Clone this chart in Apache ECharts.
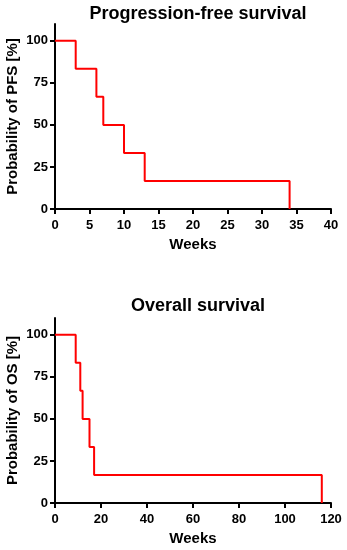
<!DOCTYPE html>
<html><head><meta charset="utf-8">
<script src="https://cdn.jsdelivr.net/npm/echarts@6/dist/echarts.min.js"></script>
<style>html,body{margin:0;padding:0;background:#fff}#c{width:347px;height:550px}</style>
</head><body><div id="c"></div>
<script>
// PFS: event times (weeks) and survival after each event (%)
const pfsWeeks = [0, 3, 6, 7, 10, 13, 34];
const pfsSurv  = [100, 83.33, 66.67, 50, 33.33, 16.67, 0];
// OS
const osWeeks = [0, 9, 11, 12, 15, 17, 116];
const osSurv  = [100, 83.33, 66.67, 50, 33.33, 16.67, 0];
const yTicks = [0, 25, 50, 75, 100];
const pfsXTicks = [0, 5, 10, 15, 20, 25, 30, 35, 40];
const osXTicks = [0, 20, 40, 60, 80, 100, 120];
const titles = ['Progression-free survival', 'Overall survival'];
const yNames = ['Probability of PFS [%]', 'Probability of OS [%]'];

const FONT = '"Liberation Sans", Arial, sans-serif';
const chart = echarts.init(document.getElementById('c'), null, {renderer: 'canvas'});
const axisLine = {show: true, lineStyle: {color: '#000', width: 2}};
const axisTick = {show: true, length: 5, lineStyle: {color: '#000', width: 2}};
const lbl = {color: '#000', fontWeight: 'bold', fontSize: 13, fontFamily: FONT};
const nameStyle = {color: '#000', fontWeight: 'bold', fontSize: 15, fontFamily: FONT};
const titleStyle = {fontFamily: FONT, fontWeight: 'bold', fontSize: 18, color: '#000'};

function xAxis(idx, max, interval, ticks) {
  return {type: 'value', gridIndex: idx, min: 0, max: max, interval: interval,
    axisLine, axisTick: Object.assign({customValues: ticks}, axisTick), splitLine: {show: false},
    axisLabel: Object.assign({margin: 10, customValues: ticks}, lbl),
    name: 'Weeks', nameLocation: 'middle', nameGap: 28, nameMoveOverlap: false, nameTextStyle: nameStyle};
}
function yAxis(idx, name) {
  return {type: 'value', gridIndex: idx, min: 0, max: 110, interval: 25,
    axisLine, splitLine: {show: false},
    axisTick: Object.assign({customValues: yTicks}, axisTick),
    axisLabel: Object.assign({margin: 7, customValues: yTicks}, lbl),
    name: name, nameLocation: 'middle', nameGap: 35, nameMoveOverlap: false, nameTextStyle: nameStyle};
}
chart.setOption({
  animation: false,
  title: [
    {text: titles[0], left: 193, top: 0, textAlign: 'center', textStyle: titleStyle},
    {text: titles[1], left: 193, top: 292, textAlign: 'center', textStyle: titleStyle}
  ],
  grid: [
    {left: 55, right: 16, top: 24, bottom: 341, containLabel: false, outerBoundsMode: 'none'},
    {left: 55, right: 16, top: 318, bottom: 47, containLabel: false, outerBoundsMode: 'none'}
  ],
  xAxis: [xAxis(0, 40, 5, pfsXTicks), xAxis(1, 120, 20, osXTicks)],
  yAxis: [yAxis(0, yNames[0]), yAxis(1, yNames[1])],
  series: [
    {type: 'line', xAxisIndex: 0, yAxisIndex: 0, step: 'end', symbol: 'none',
     lineStyle: {color: '#ff0000', width: 2}, data: pfsWeeks.map((w, i) => [w, pfsSurv[i]])},
    {type: 'line', xAxisIndex: 1, yAxisIndex: 1, step: 'end', symbol: 'none',
     lineStyle: {color: '#ff0000', width: 2}, data: osWeeks.map((w, i) => [w, osSurv[i]])}
  ]
});
</script></body></html>
